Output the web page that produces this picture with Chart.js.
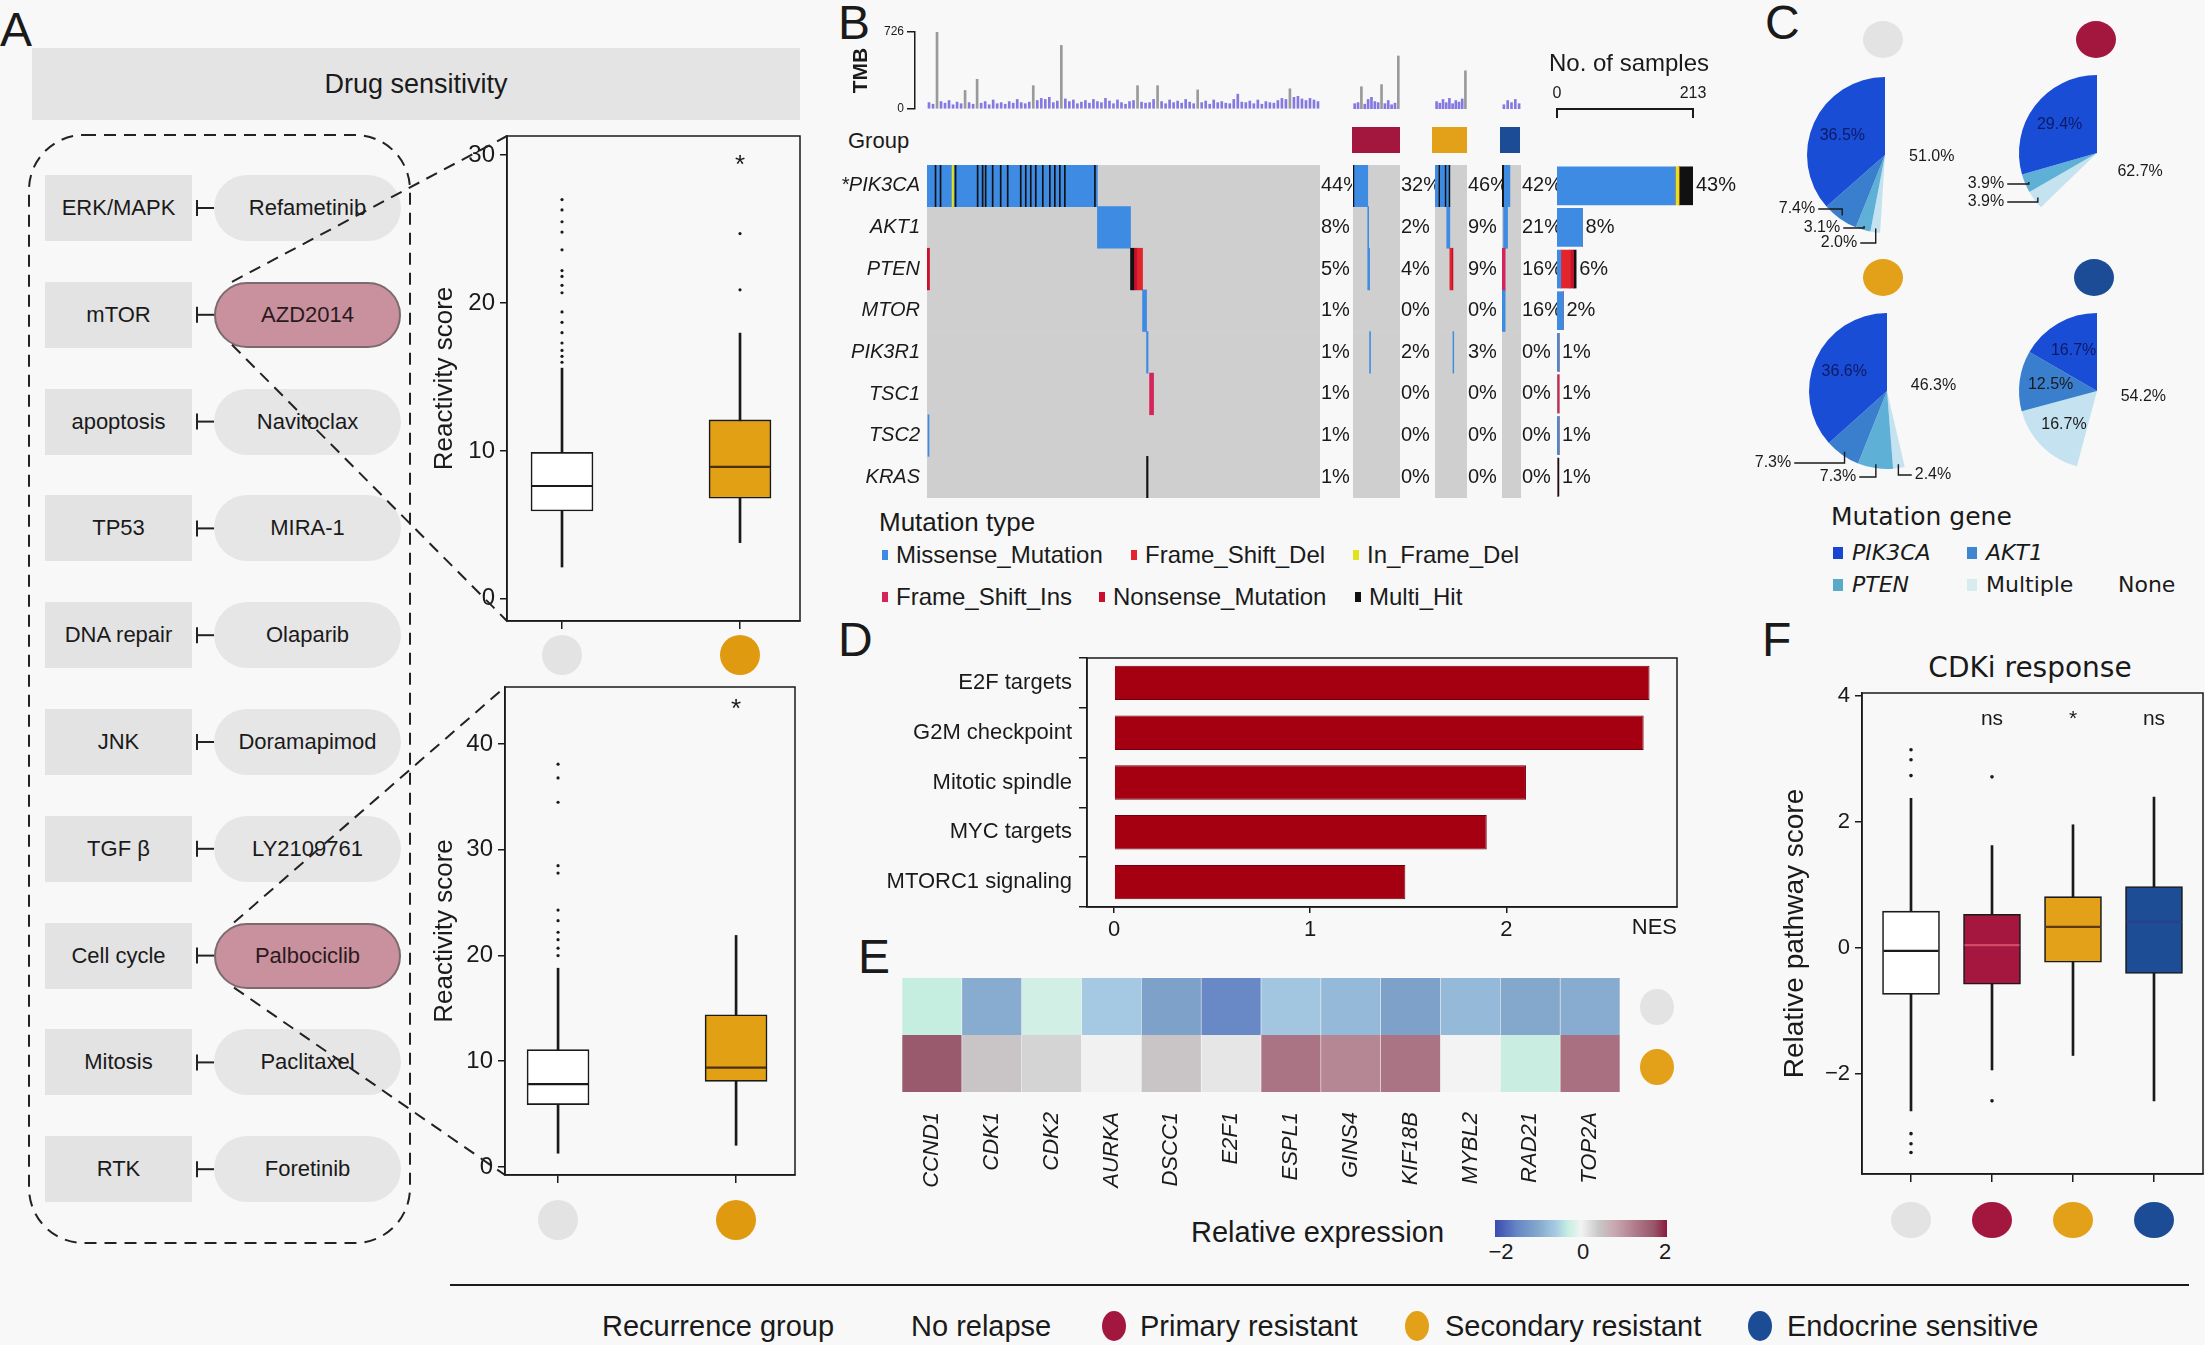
<!DOCTYPE html>
<html>
<head>
<meta charset="utf-8">
<script src="https://cdn.jsdelivr.net/npm/chart.js@4.4.1/dist/chart.umd.min.js"></script>
<style>
  html, body { margin:0; padding:0; background:#f8f8f8; }
  #root { position:relative; width:2205px; height:1345px; overflow:hidden; background:#f8f8f8; color:#1a1a1a; font-family:'Liberation Sans', Arial, sans-serif; }
  #root canvas { position:absolute; }
</style>
</head>
<body>
<div id="root"></div>
<script>
// =================== DATA ===================
// ---- Panel A ----
const pathways = ['ERK/MAPK', 'mTOR', 'apoptosis', 'TP53', 'DNA repair', 'JNK', 'TGF β', 'Cell cycle', 'Mitosis', 'RTK'];
const drugs = ['Refametinib', 'AZD2014', 'Navitoclax', 'MIRA-1', 'Olaparib', 'Doramapimod', 'LY2109761', 'Palbociclib', 'Paclitaxel', 'Foretinib'];
const highlightedDrugs = ['AZD2014', 'Palbociclib'];
const boxGroupsA = ['No relapse', 'Secondary resistant'];

const azdQ1 = [5.94, 6.8];
const azdMedian = [7.63, 8.93];
const azdQ3 = [9.9, 12.1];
const azdLow = [2.15, 3.8];
const azdHigh = [15.6, 17.97];
const azdOutliers = [[16.0, 16.4, 16.8, 17.3, 18.0, 18.7, 19.4, 20.7, 21.2, 21.8, 22.2, 23.6, 24.8, 25.5, 26.3, 27.0], [20.9, 24.7]];
const azdTicks = [0, 10, 20, 30];
const azdSig = ['', '*'];

const palQ1 = [5.9, 8.1];
const palMedian = [7.84, 9.4];
const palQ3 = [11.1, 14.4];
const palLow = [1.3, 2.05];
const palHigh = [18.8, 21.9];
const palOutliers = [[20.0, 20.7, 21.5, 22.2, 23.3, 24.3, 27.8, 28.5, 34.5, 36.8, 38.1], []];
const palTicks = [0, 10, 20, 30, 40];
const palSig = ['', '*'];

// ---- Groups ----
const groupNames = ['No relapse', 'Primary resistant', 'Secondary resistant', 'Endocrine sensitive'];
const groupColors = ['#e3e3e3', '#a3173f', '#e3a11a', '#1d4c96'];

// ---- Panel B: oncoplot ----
const genes = ['PIK3CA', 'AKT1', 'PTEN', 'MTOR', 'PIK3R1', 'TSC1', 'TSC2', 'KRAS'];
const sigGenes = ['PIK3CA'];
const groupSizes = [392, 51, 41, 24];
const mutTypes = ['Missense_Mutation', 'Frame_Shift_Del', 'In_Frame_Del', 'Frame_Shift_Ins', 'Nonsense_Mutation', 'Multi_Hit'];
const mutColors = ['#3d8be3', '#e3242b', '#e2e21c', '#d4245a', '#c8102e', '#111111'];

const tmbTicks = [0, 726];
const tmbNoRelapse = [60,45,726,70,55,80,40,65,50,175, 60,45,280,55,70,40,85,50,60,45, 70,55,90,60,50,65,220,80,100,90,
  110,60,75,600,95,70,85,50,65,80, 55,90,70,60,100,75,50,85,60,45, 70,80,220,65,55,60,90,220,70,50,
  85,60,75,55,90,65,50,180,60,75, 45,85,60,70,55,50,90,140,65,60, 75,50,85,45,70,60,55,80,100,90, 190,110,120,95,80,100,85,70];
const tmbPrimary = [50, 60, 210, 45, 90, 110, 70, 60, 230, 50, 80, 40, 55, 500];
const tmbSecondary = [70, 55, 90, 60, 100, 50, 80, 65, 95, 360];
const tmbEndocrine = [40, 80, 60, 90, 50];

// mutated samples: [gene, first sample, last sample, type]
const mutNoRelapse = [
  ['PIK3CA', 0, 170, 'Missense_Mutation'], ['PIK3CA', 25, 26.5, 'In_Frame_Del'],
  ['PIK3CA', 8, 9, 'Multi_Hit'], ['PIK3CA', 13, 14, 'Multi_Hit'], ['PIK3CA', 28, 29, 'Multi_Hit'], ['PIK3CA', 50, 51, 'Multi_Hit'],
  ['PIK3CA', 55, 56, 'Multi_Hit'], ['PIK3CA', 58, 59, 'Multi_Hit'], ['PIK3CA', 65, 66, 'Multi_Hit'], ['PIK3CA', 73, 74, 'Multi_Hit'],
  ['PIK3CA', 80, 81, 'Multi_Hit'], ['PIK3CA', 93, 94, 'Multi_Hit'], ['PIK3CA', 98, 99, 'Multi_Hit'], ['PIK3CA', 103, 104, 'Multi_Hit'],
  ['PIK3CA', 108, 109, 'Multi_Hit'], ['PIK3CA', 115, 116, 'Multi_Hit'], ['PIK3CA', 122, 123, 'Multi_Hit'], ['PIK3CA', 127, 128, 'Multi_Hit'],
  ['PIK3CA', 132, 133, 'Multi_Hit'], ['PIK3CA', 137, 138, 'Multi_Hit'], ['PIK3CA', 167, 168, 'Multi_Hit'],
  ['AKT1', 170, 203, 'Missense_Mutation'],
  ['PTEN', 0, 2.5, 'Nonsense_Mutation'], ['PTEN', 203, 207, 'Multi_Hit'], ['PTEN', 207, 210, 'Nonsense_Mutation'], ['PTEN', 210, 215, 'Frame_Shift_Del'],
  ['MTOR', 215, 219, 'Missense_Mutation'], ['PIK3R1', 219, 220.5, 'Missense_Mutation'],
  ['TSC1', 222, 226, 'Frame_Shift_Ins'], ['TSC2', 1, 2, 'Missense_Mutation'], ['KRAS', 219, 220.5, 'Multi_Hit']
];
const mutPrimary = [
  ['PIK3CA', 0, 1, 'Multi_Hit'], ['PIK3CA', 1, 16, 'Missense_Mutation'], ['AKT1', 16, 17, 'Missense_Mutation'],
  ['PTEN', 16, 18, 'Missense_Mutation'], ['PIK3R1', 18, 19, 'Missense_Mutation']
];
const mutSecondary = [
  ['PIK3CA', 0, 19, 'Missense_Mutation'], ['PIK3CA', 5, 6, 'Multi_Hit'], ['PIK3CA', 13, 14, 'Multi_Hit'], ['PIK3CA', 18, 19, 'Multi_Hit'],
  ['AKT1', 15, 19, 'Missense_Mutation'], ['PTEN', 19, 21, 'Frame_Shift_Del'], ['PTEN', 21, 23, 'Nonsense_Mutation'],
  ['PIK3R1', 23, 24, 'Missense_Mutation']
];
const mutEndocrine = [
  ['PIK3CA', 0, 2, 'Multi_Hit'], ['PIK3CA', 2, 10, 'Missense_Mutation'], ['AKT1', 2, 7, 'Missense_Mutation'],
  ['PTEN', 0, 4, 'Frame_Shift_Ins'], ['MTOR', 0, 4, 'Missense_Mutation']
];
const pctNoRelapse = [44, 8, 5, 1, 1, 1, 1, 1];
const pctPrimary = [32, 2, 4, 0, 2, 0, 0, 0];
const pctSecondary = [46, 9, 9, 0, 3, 0, 0, 0];
const pctEndocrine = [42, 21, 16, 16, 0, 0, 0, 0];
const pctAll = [43, 8, 6, 2, 1, 1, 1, 1];

const countMissense = [185, 40, 6, 10, 3, 0, 3, 0];
const countFrameShiftDel = [0, 0, 14, 0, 0, 0, 0, 0];
const countInFrameDel = [6, 0, 0, 0, 0, 0, 0, 0];
const countFrameShiftIns = [0, 0, 0, 0, 0, 3, 0, 0];
const countNonsense = [0, 0, 6, 0, 0, 0, 0, 0];
const countMultiHit = [22, 0, 4, 0, 0, 0, 0, 3];
const sampleTicks = [0, 213];

// ---- Panel C: pies (clockwise from 12 o'clock) ----
const pieCategories = ['None', 'Multiple', 'PTEN', 'AKT1', 'PIK3CA'];
const pieNoRelapse = [51.0, 2.0, 3.1, 7.4, 36.5];
const piePrimary = [62.7, 3.9, 3.9, 0, 29.4];
const pieSecondary = [46.3, 2.4, 7.3, 7.3, 36.6];
const pieEndocrine = [54.2, 16.7, 0, 12.5, 16.7];
const legendGenes = ['PIK3CA', 'AKT1', 'PTEN', 'Multiple', 'None'];

// ---- Panel D ----
const hallmarks = ['E2F targets', 'G2M checkpoint', 'Mitotic spindle', 'MYC targets', 'MTORC1 signaling'];
const nes = [2.73, 2.70, 2.10, 1.90, 1.485];
const nesTicks = [0, 1, 2];

// ---- Panel E ----
const exprGenes = ['CCND1', 'CDK1', 'CDK2', 'AURKA', 'DSCC1', 'E2F1', 'ESPL1', 'GINS4', 'KIF18B', 'MYBL2', 'RAD21', 'TOP2A'];
const exprRows = ['No relapse', 'Secondary resistant'];
const exprNoRelapse = [-0.3, -0.95, -0.22, -0.6, -1.1, -1.45, -0.65, -0.8, -1.1, -0.8, -1.0, -0.95];
const exprSecondary = [1.65, 0.45, 0.3, 0.02, 0.45, 0.12, 1.35, 1.15, 1.35, 0.0, -0.28, 1.4];
const exprTicks = [-2, 0, 2];

// ---- Panel F ----
const cdkQ1 = [-0.74, -0.58, -0.23, -0.41];
const cdkMedian = [-0.05, 0.04, 0.33, 0.41];
const cdkQ3 = [0.58, 0.53, 0.81, 0.97];
const cdkLow = [-2.59, -1.94, -1.71, -2.43];
const cdkHigh = [2.37, 1.62, 1.95, 2.39];
const cdkOutliers = [[3.14, 2.98, 2.73, -2.95, -3.11, -3.25], [2.71, -2.43], [], []];
const cdkTicks = [-2, 0, 2, 4];
const cdkSig = ['', 'ns', '*', 'ns'];

// =================== STYLE / HELPERS ===================
const FONT = "'Liberation Sans', Arial, sans-serif";
const NARROW = "'Liberation Sans Narrow', 'Liberation Sans', Arial, sans-serif";
const DEJAVU = "'DejaVu Sans', Verdana, sans-serif";
const INK = '#1a1a1a';
const root = document.getElementById('root');

Chart.defaults.font.family = FONT;
Chart.defaults.color = INK;
Chart.defaults.animation = false;
Chart.defaults.responsive = false;
Chart.defaults.devicePixelRatio = 1;
Chart.defaults.events = [];
Chart.defaults.layout.autoPadding = false;
Chart.defaults.plugins.legend.display = false;
Chart.defaults.plugins.tooltip.enabled = false;

function el(tag, css, txt) {
  const e = document.createElement(tag);
  e.style.cssText = 'position:absolute;' + css;
  if (txt != null) e.textContent = txt;
  root.appendChild(e);
  return e;
}
function text(x, y, s, o = {}) {
  const tx = o.align === 'center' ? '-50%' : o.align === 'right' ? '-100%' : '0';
  const css = `left:${x}px;top:${y}px;transform:translate(${tx},-50%);font-size:${o.size || 22}px;line-height:1;white-space:nowrap;` +
    `font-family:${o.family || FONT};` + (o.italic ? 'font-style:italic;' : '') + (o.bold ? 'font-weight:bold;' : '') +
    `color:${o.color || INK};`;
  return el('div', css, s);
}
function dot(cx, cy, w, h, color) {
  return el('div', `left:${cx - w / 2}px;top:${cy - h / 2}px;width:${w}px;height:${h}px;border-radius:50%;background:${color};`);
}
function rect(x, y, w, h, color, extra = '') {
  return el('div', `left:${x}px;top:${y}px;width:${w}px;height:${h}px;background:${color};box-sizing:border-box;${extra}`);
}
function mkCanvas(x, y, w, h) {
  const c = document.createElement('canvas');
  c.width = w; c.height = h;
  c.style.left = x + 'px'; c.style.top = y + 'px';
  c.style.width = w + 'px'; c.style.height = h + 'px';
  root.appendChild(c);
  return c;
}
const setTicks = vals => s => { s.ticks = vals.map(v => ({ value: v })); };
const minus = v => String(v).replace('-', '\u2212');
// fix an axis' thickness and drop the automatic label padding so the plot area lands where intended
const fixV = w => s => { s.width = w; s.paddingTop = 0; s.paddingBottom = 0; };
const fixH = h => s => { s.height = h; s.paddingLeft = 0; s.paddingRight = 0; };

// heat colour scale
const heatStops = [[-2, '#3b4bb0'], [-1.5, '#6585c4'], [-1.0, '#84a8cc'], [-0.6, '#a6c9e3'], [-0.3, '#c6eee0'], [0, '#f3f3f3'],
  [0.4, '#c9c9c9'], [0.8, '#c9a6b0'], [1.3, '#ad7888'], [1.7, '#97566a'], [2, '#8b1a3e']];
function hex2rgb(h) { return [1, 3, 5].map(i => parseInt(h.substr(i, 2), 16)); }
function heatColor(v) {
  if (v <= heatStops[0][0]) return heatStops[0][1];
  for (let i = 1; i < heatStops.length; i++) {
    if (v <= heatStops[i][0]) {
      const [a, ca] = heatStops[i - 1], [b, cb] = heatStops[i];
      const t = (v - a) / (b - a), A = hex2rgb(ca), B = hex2rgb(cb);
      return `rgb(${A.map((x, k) => Math.round(x + (B[k] - x) * t)).join(',')})`;
    }
  }
  return heatStops[heatStops.length - 1][1];
}

// ---- plugins ----
Chart.register({
  id: 'frame',
  afterDatasetsDraw(chart, args, o) {
    if (!o || !o.color) return;
    const { ctx, chartArea: a } = chart;
    ctx.save(); ctx.strokeStyle = o.color; ctx.lineWidth = o.width || 1.5;
    ctx.strokeRect(a.left, a.top, a.right - a.left, a.bottom - a.top);
    ctx.restore();
  }
});
Chart.register({
  id: 'annot',
  afterDatasetsDraw(chart, args, o) {
    if (!o || !o.labels) return;
    const { ctx } = chart, xs = chart.scales.x, ys = chart.scales.y;
    ctx.save(); ctx.fillStyle = INK; ctx.font = o.font; ctx.textAlign = 'center'; ctx.textBaseline = 'middle';
    o.labels.forEach((t, i) => { if (t) ctx.fillText(t, xs.getPixelForValue(o.positions[i]), ys.getPixelForValue(o.level)); });
    ctx.restore();
  }
});
Chart.register({
  id: 'rowText',
  afterDatasetsDraw(chart, args, o) {
    if (!o || !o.labels) return;
    const { ctx, chartArea: a } = chart, xs = chart.scales.x, ys = chart.scales.y;
    ctx.save(); ctx.fillStyle = INK; ctx.font = o.font; ctx.textAlign = 'left'; ctx.textBaseline = 'middle';
    o.labels.forEach((t, i) => {
      const x = o.at ? xs.getPixelForValue(o.at[i]) + o.gap : a.right + o.gap;
      ctx.fillText(t, x, ys.getPixelForValue(i));
    });
    ctx.restore();
  }
});
Chart.register({
  id: 'capTicks',
  afterDraw(chart, args, o) {
    if (!o || !o.len) return;
    const { ctx } = chart, s = chart.scales.x;
    ctx.save(); ctx.strokeStyle = INK; ctx.lineWidth = 2;
    s.ticks.forEach(t => { const x = s.getPixelForValue(t.value); ctx.beginPath(); ctx.moveTo(x, s.bottom - 1); ctx.lineTo(x, s.bottom + o.len); ctx.stroke(); });
    ctx.restore();
  }
});
Chart.register({
  id: 'pieLabels',
  afterDatasetsDraw(chart, args, o) {
    if (!o || !o.font) return;
    const { ctx } = chart, meta = chart.getDatasetMeta(0), vals = chart.data.datasets[0].data;
    ctx.save(); ctx.font = o.font; ctx.textAlign = 'center'; ctx.textBaseline = 'middle';
    meta.data.forEach((arc, i) => {
      const v = vals[i]; if (!v) return;
      const p = arc.getProps(['x', 'y', 'startAngle', 'endAngle', 'outerRadius'], true);
      const mid = (p.startAngle + p.endAngle) / 2, txt = v.toFixed(1) + '%';
      const out = o.outside && o.outside[i];
      if (out) {
        const tx = p.x + out[0], ty = p.y + out[1];
        ctx.fillStyle = INK; ctx.fillText(txt, tx, ty);
        const ax = p.x + Math.cos(mid) * p.outerRadius * 0.95, ay = p.y + Math.sin(mid) * p.outerRadius * 0.95;
        const w = ctx.measureText(txt).width;
        const sx = ax > tx ? tx + w / 2 + 3 : tx - w / 2 - 3;
        ctx.strokeStyle = INK; ctx.lineWidth = 1.4;
        ctx.beginPath(); ctx.moveTo(sx, ty); ctx.lineTo(ax, ty); ctx.lineTo(ax, ay); ctx.stroke();
      } else {
        const r = p.outerRadius * 0.6;
        ctx.fillStyle = (o.colors && o.colors[i]) || INK;
        ctx.fillText(txt, p.x + Math.cos(mid) * r, p.y + Math.sin(mid) * r);
      }
    });
    ctx.restore();
  }
});

// =================== PANEL LABELS ===================
[['A', 0, 30], ['B', 838, 23], ['C', 1765, 23], ['D', 838, 640], ['E', 858, 957], ['F', 1762, 640]]
  .forEach(([t, x, y]) => text(x, y, t, { size: 48 }));

// =================== PANEL A ===================
rect(32, 48, 768, 72, '#e4e4e4');
text(416, 84, 'Drug sensitivity', { size: 27, align: 'center' });
const rowY = i => 208 + i * 106.8;
let svg = '';
pathways.forEach((p, i) => {
  const yc = rowY(i);
  rect(45, yc - 33, 147, 66, '#e3e3e3');
  text(118.5, yc, p, { size: 22, align: 'center' });
  const hl = highlightedDrugs.includes(drugs[i]);
  rect(214, yc - 33, 187, 66, hl ? '#c9919d' : '#e6e6e6', `border-radius:33px;${hl ? 'border:2px solid #7c6a70;' : ''}`);
  text(307.5, yc, drugs[i], { size: 22, align: 'center', color: hl ? '#2a1a20' : INK });
  svg += `<line x1="197" y1="${yc}" x2="214" y2="${yc}" stroke="#222" stroke-width="2"/>` +
         `<line x1="197" y1="${yc - 8}" x2="197" y2="${yc + 8}" stroke="#222" stroke-width="2"/>`;
});

function boxChart(x, y, w, h, cfg) {
  const c = mkCanvas(x, y, w, h);
  const pos = cfg.q1.map((_, i) => i + 1);
  return new Chart(c, {
    type: 'bar',
    data: {
      datasets: [
        { type: 'scatter', data: cfg.outliers.flatMap((arr, i) => arr.map(v => ({ x: i + 1, y: v }))), pointRadius: cfg.outR, pointBackgroundColor: INK, pointBorderWidth: 0, order: 0 },
        { type: 'scatter', data: pos.map((p, i) => ({ x: p, y: cfg.median[i] })), pointStyle: 'line', pointRadius: cfg.boxW / 2 - 1, pointBorderColor: cfg.medColors, pointBorderWidth: 2.2, order: 1 },
        { type: 'bar', data: pos.map((p, i) => ({ x: p, y: [cfg.q1[i], cfg.q3[i]] })), backgroundColor: cfg.fills, borderColor: INK, borderWidth: 1.6, borderSkipped: false, barThickness: cfg.boxW, grouped: false, order: 2 },
        { type: 'bar', data: pos.map((p, i) => ({ x: p, y: [cfg.low[i], cfg.high[i]] })), backgroundColor: INK, barThickness: 2, grouped: false, order: 3 }
      ]
    },
    options: {
      layout: { autoPadding: false, padding: cfg.pad },
      scales: {
        x: { type: 'linear', offset: false, min: cfg.xMin, max: cfg.xMax, afterBuildTicks: s => { s.ticks = pos.map(v => ({ value: v })); },
             ticks: { display: false }, grid: { offset: false, drawOnChartArea: false, tickLength: 8, color: INK, lineWidth: 1.5 },
             border: { color: INK, width: 1.5 }, afterFit: fixH(cfg.xAxisH) },
        y: { type: 'linear', min: cfg.yMin, max: cfg.yMax, afterBuildTicks: setTicks(cfg.ticks),
             ticks: { font: { size: cfg.tickSize }, color: INK, padding: 5, callback: v => minus(v) },
             grid: { drawOnChartArea: false, tickLength: 7, color: INK, lineWidth: 1.5 }, border: { color: INK, width: 1.5 },
             title: { display: true, text: cfg.yTitle, font: { size: cfg.titleSize }, color: INK, padding: { top: cfg.titlePad, bottom: 0 } },
             afterFit: fixV(cfg.yAxisW) }
      },
      plugins: { frame: { color: INK, width: 1.5 }, annot: { font: `${cfg.sigSize}px ${FONT}`, labels: cfg.sig, positions: pos, level: cfg.sigLevel } }
    }
  });
}

boxChart(420, 120, 390, 520, {
  q1: azdQ1, median: azdMedian, q3: azdQ3, low: azdLow, high: azdHigh, outliers: azdOutliers, ticks: azdTicks, sig: azdSig,
  fills: ['#ffffff', '#e2a015'], medColors: [INK, '#4a300a'], boxW: 62, outR: 1.6,
  pad: { top: 16, right: 10, left: 0, bottom: 0 }, xMin: 0.691, xMax: 2.337, yMin: -1.5, yMax: 31.3,
  xAxisH: 19, yAxisW: 87, tickSize: 24, yTitle: 'Reactivity score', titleSize: 26, titlePad: 9, sigSize: 26, sigLevel: 29.3
});
boxChart(420, 670, 390, 525, {
  q1: palQ1, median: palMedian, q3: palQ3, low: palLow, high: palHigh, outliers: palOutliers, ticks: palTicks, sig: palSig,
  fills: ['#ffffff', '#e2a015'], medColors: [INK, '#4a300a'], boxW: 62, outR: 1.6,
  pad: { top: 17, right: 15, left: 0, bottom: 0 }, xMin: 0.702, xMax: 2.331, yMin: -0.76, yMax: 45.4,
  xAxisH: 20, yAxisW: 85, tickSize: 24, yTitle: 'Reactivity score', titleSize: 26, titlePad: 9, sigSize: 26, sigLevel: 43.2
});
dot(562, 655, 40, 40, groupColors[0]); dot(740, 655, 40, 40, '#e09a10');
dot(558, 1220, 40, 40, groupColors[0]); dot(736, 1220, 40, 40, '#e09a10');

// connectors & dashed outline
const azdY = rowY(drugs.indexOf('AZD2014')), palY = rowY(drugs.indexOf('Palbociclib'));
svg += `<rect x="29" y="135" width="381" height="1108" rx="55" ry="55" fill="none" stroke="#222" stroke-width="2" stroke-dasharray="12 8"/>`;
const dash = (x1, y1, x2, y2) => `<line x1="${x1}" y1="${y1}" x2="${x2}" y2="${y2}" stroke="#222" stroke-width="2" stroke-dasharray="12 8"/>`;
svg += dash(232, azdY - 33, 507, 136) + dash(232, azdY + 30, 507, 621) + dash(234, palY - 33, 505, 687) + dash(234, palY + 32, 505, 1175);

// =================== PANEL B ===================
text(848, 141, 'Group', { size: 22 });
function tmbChart(x, y, w, h, vals, o) {
  const c = mkCanvas(x, y, w, h);
  const yScale = o.axis ? {
    min: 0, max: 726, afterBuildTicks: setTicks(tmbTicks), ticks: { font: { size: 12 }, padding: 3, color: INK },
    grid: { drawOnChartArea: false, tickLength: 8, color: INK, lineWidth: 1.5 }, border: { color: INK, width: 1.5 },
    title: { display: true, text: 'TMB', font: { size: 21, weight: 'bold' }, color: INK, padding: { top: 4, bottom: 0 } },
    afterFit: fixV(70)
  } : { min: 0, max: 726, display: false };
  return new Chart(c, {
    type: 'bar',
    data: { datasets: [{ data: vals.map((v, i) => ({ x: i, y: v })), backgroundColor: vals.map(v => v > 150 ? '#9a9a9a' : '#8479e0'), barThickness: 2, grouped: false }] },
    options: { layout: { padding: o.pad }, scales: { x: { type: 'linear', offset: false, grid: { offset: false }, min: o.xMin, max: vals.length - 0.5, display: false }, y: yScale } }
  });
}
tmbChart(845, 26, 475, 86, tmbNoRelapse, { axis: true, pad: { top: 6, bottom: 3, left: 0, right: 0 }, xMin: -3.49 });
tmbChart(1353, 32, 47, 77, tmbPrimary, { pad: 0, xMin: -0.5 });
tmbChart(1435, 32, 32, 77, tmbSecondary, { pad: 0, xMin: -0.5 });
tmbChart(1502, 32, 19, 77, tmbEndocrine, { pad: 0, xMin: -0.5 });

rect(1352, 127, 48, 26, groupColors[1]);
rect(1432, 127, 35, 26, groupColors[2]);
rect(1500, 127, 20, 26, groupColors[3]);

function matrixChart(x, w, n, segs, pct, o) {
  const c = mkCanvas(x, 165, w, 333);
  const datasets = mutTypes.map((t, k) => ({
    data: segs.filter(s => s[3] === t).map(s => ({ y: s[0], x: [s[1], s[2]] })),
    backgroundColor: mutColors[k], barPercentage: 1, categoryPercentage: 1, grouped: false,
    order: t === 'Missense_Mutation' ? 5 : 1
  }));
  datasets.push({ data: genes.map(g => ({ y: g, x: [0, n] })), backgroundColor: '#cfcfcf', barPercentage: 1, categoryPercentage: 1, grouped: false, order: 10 });
  const yScale = o.labels ? {
    type: 'category', grid: { display: false, drawTicks: false }, border: { display: false },
    ticks: { font: { size: 20, style: 'italic', family: NARROW }, color: INK, padding: 7, callback: (v, i) => (sigGenes.includes(genes[i]) ? '*' : '') + genes[i] },
    afterFit: fixV(o.axisW)
  } : { type: 'category', display: false };
  return new Chart(c, {
    type: 'bar',
    data: { labels: genes, datasets },
    options: {
      indexAxis: 'y', layout: { padding: { left: 0, right: o.padR, top: 0, bottom: 0 } },
      scales: { x: { type: 'linear', min: 0, max: n, display: false }, y: yScale },
      plugins: { rowText: { labels: pct.map(v => v + '%'), gap: 1, font: `20px ${NARROW}` } }
    }
  });
}
matrixChart(835, 517, groupSizes[0], mutNoRelapse, pctNoRelapse, { labels: true, axisW: 92, padR: 32 });
matrixChart(1353, 82, groupSizes[1], mutPrimary, pctPrimary, { padR: 35 });
matrixChart(1435, 67, groupSizes[2], mutSecondary, pctSecondary, { padR: 35 });
matrixChart(1502, 55, groupSizes[3], mutEndocrine, pctEndocrine, { padR: 36 });

// right bar chart: No. of samples (bars) + its axis
(function () {
  const c = mkCanvas(1540, 165, 200, 333);
  const typeCounts = [countMissense, countFrameShiftDel, countInFrameDel, countFrameShiftIns, countNonsense, countMultiHit];
  const totals = genes.map((g, i) => typeCounts.reduce((s, arr) => s + arr[i], 0));
  new Chart(c, {
    type: 'bar',
    data: { datasets: mutTypes.map((t, k) => ({ data: genes.map((g, i) => ({ x: typeCounts[k][i], y: i })), backgroundColor: mutColors[k], barThickness: 38, borderWidth: 0 })) },
    options: {
      indexAxis: 'y', layout: { padding: { left: 17, right: 47, top: 0, bottom: 0 } },
      scales: {
        y: { type: 'linear', reverse: true, offset: false, grid: { offset: false }, min: -0.5, max: genes.length - 0.5, stacked: true, display: false },
        x: { type: 'linear', min: 0, max: 213, stacked: true, display: false }
      },
      plugins: { rowText: { labels: pctAll.map(v => v + '%'), at: totals, gap: 3, font: `20px ${NARROW}` } }
    }
  });
  const ca = mkCanvas(1540, 75, 200, 50);
  new Chart(ca, {
    type: 'bar',
    data: { datasets: [] },
    options: {
      layout: { padding: { left: 17, right: 47, top: 0, bottom: 0 } },
      scales: {
        x: { type: 'linear', position: 'top', offset: false, min: 0, max: 213, afterBuildTicks: setTicks(sampleTicks),
             ticks: { font: { size: 16 }, padding: 6, color: INK }, grid: { offset: false, drawOnChartArea: false, drawTicks: false },
             border: { color: INK, width: 2 }, afterFit: fixH(34) },
        y: { display: false }
      },
      plugins: { capTicks: { len: 9 } }
    }
  });
})();
text(1629, 63, 'No. of samples', { size: 24, align: 'center' });

// legend of mutation types
text(879, 522, 'Mutation type', { size: 26 });
const legPos = [[882, 555], [1131, 555], [1353, 555], [882, 597], [1099, 597], [1355, 597]];
const legOrder = ['Missense_Mutation', 'Frame_Shift_Del', 'In_Frame_Del', 'Frame_Shift_Ins', 'Nonsense_Mutation', 'Multi_Hit'];
legOrder.forEach((t, i) => {
  const [lx, ly] = legPos[i];
  rect(lx, ly - 5, 6, 10, mutColors[mutTypes.indexOf(t)]);
  text(lx + 14, ly, t, { size: 24 });
});

// =================== PANEL C ===================
const pieColors = ['rgba(0,0,0,0)', '#c4e2ef', '#5fb0d6', '#3a7fcd', '#1a4dd6'];
function pieChart(cx, cy, vals, outside) {
  const c = mkCanvas(cx - 140, cy - 90, 280, 190);
  return new Chart(c, {
    type: 'pie',
    data: { labels: pieCategories, datasets: [{ data: vals, backgroundColor: pieColors, borderWidth: 0, hoverBorderWidth: 0, hoverOffset: 0 }] },
    options: { layout: { padding: { left: 62, right: 62, top: 12, bottom: 22 } },
      plugins: { pieLabels: { font: `16px ${FONT}`, outside, colors: { 4: '#0d1a66' } } } }
  });
}
pieChart(1885, 155, pieNoRelapse, { 1: [-46, 88], 2: [-63, 73], 3: [-88, 54] });
pieChart(2097, 153, piePrimary, { 1: [-111, 49], 2: [-111, 31] });
pieChart(1887, 391, pieSecondary, { 1: [46, 84], 2: [-49, 86], 3: [-114, 72] });
pieChart(2097, 391, pieEndocrine, {});
dot(1883, 39, 40, 37, groupColors[0]); dot(2096, 39, 40, 37, groupColors[1]);
dot(1883, 277, 40, 37, groupColors[2]); dot(2094, 277, 40, 37, groupColors[3]);

text(1831, 516, 'Mutation gene', { size: 25, family: DEJAVU });
const legGenePos = [[1833, 553], [1967, 553], [1833, 585], [1967, 585], [2118, 585]];
const legGeneColors = ['#1845d2', '#3f86d0', '#59a9c9', '#d6ecee', null];
legendGenes.forEach((g, i) => {
  const [lx, ly] = legGenePos[i];
  if (legGeneColors[i]) { rect(lx, ly - 6, 10, 12, legGeneColors[i]); }
  const italic = genes.includes(g);
  text(legGeneColors[i] ? lx + 19 : lx, ly, g, { size: 22, family: DEJAVU, italic });
});

// =================== PANEL D ===================
(function () {
  const c = mkCanvas(840, 640, 850, 310);
  new Chart(c, {
    type: 'bar',
    data: { labels: hallmarks, datasets: [{ data: nes, backgroundColor: '#a50011', borderColor: '#6e0010', borderWidth: 1, barPercentage: 0.69, categoryPercentage: 1 }] },
    options: {
      indexAxis: 'y', layout: { padding: { top: 18, right: 13, left: 0, bottom: 0 } },
      scales: {
        x: { type: 'linear', min: -0.138, max: 2.87, afterBuildTicks: setTicks(nesTicks), ticks: { font: { size: 22 }, padding: 4, color: INK },
             grid: { drawOnChartArea: false, tickLength: 6, color: INK, lineWidth: 1.5 }, border: { color: INK, width: 1.5 },
             title: { display: true, text: 'NES', align: 'end', font: { size: 22 }, color: INK, padding: { top: 0, bottom: 9 } },
             afterFit: fixH(43) },
        y: { ticks: { font: { size: 22 }, padding: 7, color: INK }, grid: { drawOnChartArea: false, tickLength: 8, color: INK, lineWidth: 1.5 },
             border: { color: INK, width: 1.5 }, afterFit: fixV(247) }
      },
      plugins: { frame: { color: INK, width: 1.5 } }
    }
  });
})();

// =================== PANEL E ===================
(function () {
  const c = mkCanvas(850, 970, 790, 230);
  const rowsVals = [exprNoRelapse, exprSecondary];
  new Chart(c, {
    type: 'bar',
    data: { labels: exprGenes, datasets: rowsVals.map((vals, r) => ({
      data: vals.map(() => [exprRows.length - r - 1, exprRows.length - r]),
      backgroundColor: vals.map(heatColor), barPercentage: 1, categoryPercentage: 0.99, grouped: false, borderWidth: 0 })) },
    options: {
      layout: { padding: { left: 52, right: 20, top: 8, bottom: 0 } },
      scales: {
        x: { grid: { display: false, drawTicks: false }, border: { display: false },
             ticks: { font: { size: 22, style: 'italic' }, color: INK, minRotation: 90, maxRotation: 90, padding: 20, autoSkip: false },
             afterFit: fixH(108) },
        y: { min: 0, max: exprRows.length, display: false }
      }
    }
  });
})();
dot(1657, 1007, 34, 36, groupColors[0]);
dot(1657, 1067, 34, 36, groupColors[2]);
text(1191, 1232, 'Relative expression', { size: 29 });
rect(1495, 1220, 172, 17, 'transparent', `background:linear-gradient(to right, ${heatStops.map(([v, col]) => `${col} ${((v + 2) / 4 * 100).toFixed(1)}%`).join(', ')});`);
exprTicks.forEach(v => text(1501 + (v + 2) / 4 * 164, 1252, minus(v), { size: 22, align: 'center' }));

// =================== PANEL F ===================
text(2030, 668, 'CDKi response', { size: 28, family: DEJAVU, align: 'center' });
boxChart(1755, 683, 450, 517, {
  q1: cdkQ1, median: cdkMedian, q3: cdkQ3, low: cdkLow, high: cdkHigh, outliers: cdkOutliers, ticks: cdkTicks, sig: cdkSig,
  fills: ['#ffffff', '#a5173f', '#e3a11a', '#1d4d95'], medColors: [INK, '#d04a68', '#5b3a0c', '#2a3f8f'], boxW: 57, outR: 1.8,
  pad: { top: 10, right: 2, left: 0, bottom: 0 }, xMin: 0.395, xMax: 4.605, yMin: -3.59, yMax: 4.04,
  xAxisH: 26, yAxisW: 107, tickSize: 22, yTitle: 'Relative pathway score', titleSize: 28, titlePad: 23, sigSize: 21, sigLevel: 3.62
});
[1911, 1992, 2073, 2154].forEach((x, i) => dot(x, 1220, 40, 36, groupColors[i]));

// =================== BOTTOM LEGEND ===================
rect(450, 1284, 1739, 2, INK);
text(602, 1326, 'Recurrence group', { size: 29 });
const legX = [[null, 911], [1114, 1140], [1417, 1445], [1760, 1787]];
groupNames.forEach((g, i) => {
  const [cx, tx] = legX[i];
  if (cx) dot(cx, 1326, 24, 30, groupColors[i]);
  text(tx, 1326, g, { size: 29 });
});

// SVG overlay (dashed frame, connectors, inhibition arrows)
const svgEl = document.createElementNS('http://www.w3.org/2000/svg', 'svg');
svgEl.setAttribute('width', '2205'); svgEl.setAttribute('height', '1345');
svgEl.style.cssText = 'position:absolute;left:0;top:0;pointer-events:none;';
svgEl.innerHTML = svg;
root.appendChild(svgEl);
</script>
</body>
</html>
